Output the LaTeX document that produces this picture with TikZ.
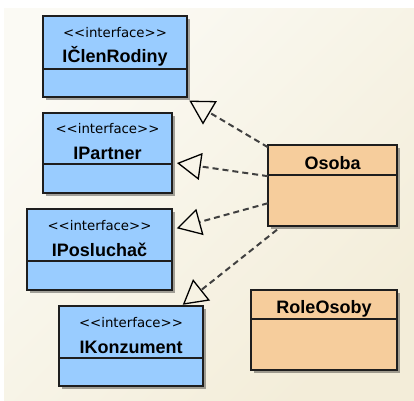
\documentclass[tikz,border=0pt]{standalone}
\usepackage{fontspec}
\setmainfont{Liberation Sans}
\newfontfamily\stfont{DejaVu Sans}
\usetikzlibrary{arrows.meta,shadows}
\definecolor{ifblue}{HTML}{99CCFF}
\definecolor{clsorange}{HTML}{F6CD9C}
\definecolor{bgtop}{HTML}{FBFAF4}
\definecolor{bgbot}{HTML}{F3EDD9}
\definecolor{edge}{HTML}{1E1E1E}
\definecolor{dashc}{HTML}{404040}
\tikzset{
  umlbox/.style={draw=edge, line width=1.5pt, inner sep=0pt, outer sep=0pt, anchor=north west,
    drop shadow={shadow xshift=2.5pt, shadow yshift=-2.5pt, fill=black, opacity=0.35}},
  ifbox/.style={umlbox, fill=ifblue},
  clsbox/.style={umlbox, fill=clsorange},
  divider/.style={draw=edge, line width=1.5pt},
  stereo/.style={anchor=base, inner sep=0pt, font=\stfont\fontsize{13.3}{15}\selectfont},
  cname/.style={anchor=base, inner sep=0pt, font=\bfseries\fontsize{18}{20}\selectfont},
  realize/.style={draw=dashc, line width=2pt, dash pattern=on 6pt off 4pt,
    -{Triangle[open, length=24pt, width=27pt, line width=1.3pt, color=black]}}
}
\begin{document}
\begin{tikzpicture}[x=1pt,y=-1pt]
\useasboundingbox (0,0) rectangle (414,400);
\shade[top color=bgtop, bottom color=bgbot, shading angle=45] (4,8) rectangle (414,400);

% interfaces
\node[ifbox, minimum width=144pt, minimum height=81pt] (icr) at (43,16) {};
\draw[divider] (icr.west |- 0,69) -- (icr.east |- 0,69);
\node[stereo] (icrs) at (115,37) {<<interface>>};
\node[cname] (icrn) at (115,62) {IČlenRodiny};

\node[ifbox, minimum width=129pt, minimum height=80pt] (ip) at (43,113) {};
\draw[divider] (ip.west |- 0,164) -- (ip.east |- 0,164);
\node[stereo] (ips) at (107.5,133) {<<interface>>};
\node[cname] (ipn) at (107.5,159) {IPartner};

\node[ifbox, minimum width=145pt, minimum height=81pt] (ipo) at (27,209) {};
\draw[divider] (ipo.west |- 0,261) -- (ipo.east |- 0,261);
\node[stereo] (ipos) at (99.5,230) {<<interface>>};
\node[cname] (ipon) at (99.5,256) {IPosluchač};

\node[ifbox, minimum width=144pt, minimum height=80pt] (ik) at (59,306) {};
\draw[divider] (ik.west |- 0,358) -- (ik.east |- 0,358);
\node[stereo] (iks) at (131,327) {<<interface>>};
\node[cname] (ikn) at (131,353) {IKonzument};

% classes
\node[clsbox, minimum width=129pt, minimum height=81pt] (os) at (268,145) {};
\draw[divider] (os.west |- 0,175) -- (os.east |- 0,175);
\node[cname] (osn) at (332.5,169) {Osoba};

\node[clsbox, minimum width=146pt, minimum height=80pt] (ro) at (251,290) {};
\draw[divider] (ro.west |- 0,319) -- (ro.east |- 0,319);
\node[cname] (ron) at (324,313) {RoleOsoby};

% realizations
\draw[realize, shorten >=7pt] (os) -- (icr);
\draw[realize, shorten >=5pt] (os) -- (ip);
\draw[realize, shorten >=5pt] (os) -- (ipo);
\draw[realize, shorten >=2pt, shorten <=6pt] (os) -- (ik);
\end{tikzpicture}
\end{document}
